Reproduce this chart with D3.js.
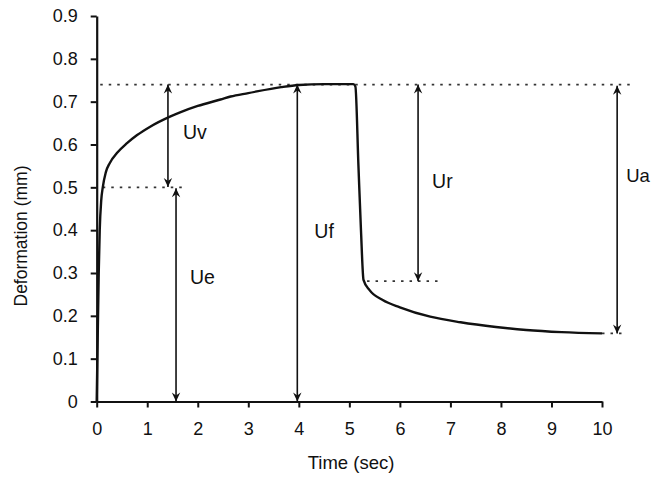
<!DOCTYPE html>
<html>
<head>
<meta charset="utf-8">
<script src="https://cdn.jsdelivr.net/npm/d3@7/dist/d3.min.js"></script>
<style>
  html, body { margin: 0; padding: 0; background: #fff; }
  svg { display: block; }
  text { font-family: "Liberation Sans", Arial, Helvetica, sans-serif; fill: #111; }
</style>
</head>
<body>
<svg id="chart" width="652" height="478"></svg>
<script>
// ---- data ----
const timeValues = [0, 0.02, 0.04, 0.06, 0.09, 0.12, 0.18, 0.26, 0.4, 0.6, 0.8, 1.05, 1.45, 1.65, 2.0, 2.45, 2.65, 3.0, 3.65, 4.0, 4.5, 5.08, 5.12, 5.18, 5.23, 5.28, 5.4, 5.66, 6.0, 6.6, 7.2, 7.9, 8.5, 9.2, 10.0];
const deformationValues = [0, 0.15, 0.3, 0.4, 0.47, 0.5, 0.535, 0.557, 0.58, 0.603, 0.622, 0.641, 0.665, 0.675, 0.69, 0.705, 0.712, 0.72, 0.734, 0.739, 0.741, 0.741, 0.735, 0.55, 0.4, 0.284, 0.26, 0.237, 0.22, 0.198, 0.185, 0.174, 0.167, 0.162, 0.159];

const xTicks = [0, 1, 2, 3, 4, 5, 6, 7, 8, 9, 10];
const yTicks = [0, 0.1, 0.2, 0.3, 0.4, 0.5, 0.6, 0.7, 0.8, 0.9];
const yTickLabels = ["0", "0.1", "0.2", "0.3", "0.4", "0.5", "0.6", "0.7", "0.8", "0.9"];

// annotation arrows (double headed)
const arrowLabels = ["Uv", "Ue", "Uf", "Ur", "Ua"];
const arrowTime = [1.41, 1.57, 3.97, 6.36, 10.3];
const arrowTop = [0.74, 0.498, 0.74, 0.74, 0.737];
const arrowBottom = [0.501, 0, 0, 0.281, 0.159];

// dotted guide lines
const guideLevel = [0.74, 0.5, 0.281, 0.159];
const guideStart = [0.07, 0.12, 5.35, 10.0];
const guideEnd = [10.6, 1.8, 6.85, 10.5];

// ---- layout ----
const svg = d3.select("#chart");
const x = d3.scaleLinear().domain([0, 10]).range([96.7, 602]);
const y = d3.scaleLinear().domain([0, 0.9]).range([401.5, 16]);

// arrow marker
const defs = svg.append("defs");
defs.append("marker")
  .attr("id", "arr")
  .attr("viewBox", "-10 -5 11 10")
  .attr("refX", 0).attr("refY", 0)
  .attr("markerWidth", 11).attr("markerHeight", 10)
  .attr("markerUnits", "userSpaceOnUse")
  .attr("orient", "auto-start-reverse")
  .append("path")
  .attr("d", "M0,0 L-9,-4.2 L-6,0 L-9,4.2 Z")
  .attr("fill", "#111");

// guide lines
const guides = svg.append("g").attr("stroke", "#333").attr("stroke-width", 1.7).attr("stroke-dasharray", "2.5,6");
guideLevel.forEach((lv, i) => {
  guides.append("line")
    .attr("x1", x(guideStart[i])).attr("x2", x(guideEnd[i]))
    .attr("y1", y(lv)).attr("y2", y(lv));
});

// axes
const xAxis = d3.axisBottom(x).tickValues(xTicks).tickFormat(d3.format("d")).tickSize(6).tickSizeOuter(0).tickPadding(15);
const yAxis = d3.axisLeft(y).tickValues(yTicks).tickFormat((d, i) => yTickLabels[i]).tickSize(6).tickSizeOuter(0).tickPadding(13);

const gx = svg.append("g").attr("transform", `translate(0,${y(0)})`).call(xAxis);
const gy = svg.append("g").attr("transform", `translate(${x(0)},0)`).call(yAxis);
[gx, gy].forEach(g => {
  g.selectAll("path.domain").attr("stroke", "#111").attr("stroke-width", 2.2);
  g.selectAll(".tick line").attr("stroke", "#111").attr("stroke-width", 2);
  g.selectAll(".tick text").attr("font-size", 18).attr("fill", "#111")
    .style("font-family", "'Liberation Sans', Arial, sans-serif");
});

// curve
const pts = timeValues.map((t, i) => [t, deformationValues[i]]);
const line = d3.line().x(d => x(d[0])).y(d => y(d[1])).curve(d3.curveMonotoneX);
svg.append("path")
  .datum(pts)
  .attr("d", line)
  .attr("fill", "none")
  .attr("stroke", "#111")
  .attr("stroke-width", 2.4)
  .attr("stroke-linejoin", "round");

// arrows
const labelDx = [15, 14, 17, 14, 9];
const labelY = [0.613, 0.274, 0.382, 0.498, 0.512];
const labelSize = [19.5, 19.5, 19.5, 19.5, 18.5];
arrowLabels.forEach((lab, i) => {
  const ax = x(arrowTime[i]);
  svg.append("line")
    .attr("x1", ax).attr("x2", ax)
    .attr("y1", y(arrowTop[i])).attr("y2", y(arrowBottom[i]))
    .attr("stroke", "#111").attr("stroke-width", 1.6)
    .attr("marker-start", "url(#arr)")
    .attr("marker-end", "url(#arr)");
  svg.append("text")
    .attr("x", ax + labelDx[i])
    .attr("y", y(labelY[i]))
    .attr("font-size", labelSize[i])
    .text(lab);
});

// axis titles
svg.append("text")
  .attr("x", 351).attr("y", 469)
  .attr("text-anchor", "middle")
  .attr("font-size", 18.5)
  .text("Time (sec)");

svg.append("text")
  .attr("transform", "translate(27,236) rotate(-90)")
  .attr("text-anchor", "middle")
  .attr("font-size", 17.5)
  .text("Deformation (mm)");
</script>
</body>
</html>
